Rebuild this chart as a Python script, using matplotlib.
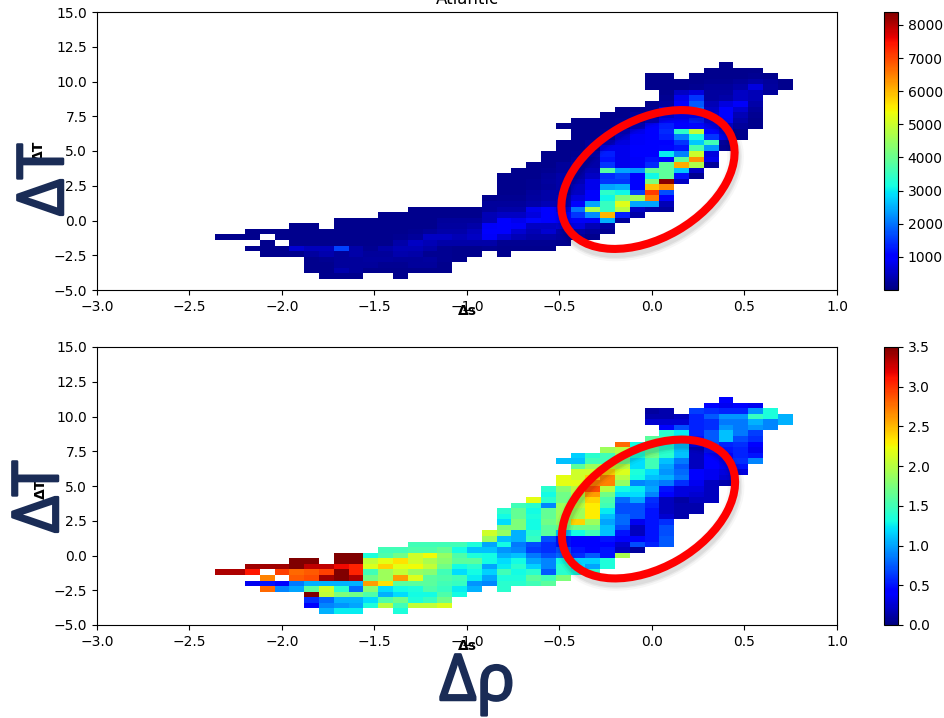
import numpy as np
import matplotlib
matplotlib.use('Agg')
import matplotlib.pyplot as plt
import matplotlib.patheffects as pe
from matplotlib.patches import Ellipse

nan = float('nan')

# histogram grid: 50 x 50 bins over the axis ranges
x_range = (-3.0, 1.0)
y_range = (-5.0, 15.0)
n_bins = 50
first_row = 2

# first occupied column of every row, both panels share the same footprint
first_col = [15, 14, 14, 14, 11, 10, 11, 8, 10, 13, 16, 19, 21, 26, 26, 27, 27, 27, 27,
             28, 29, 30, 30, 31, 31, 32, 32, 31, 32, 34, 35, 37, 38, 38, 37, 37, 37, 41, 42]

# upper panel, counts per bin
count_rows = [
    [100, 100, 100, nan, nan, 100],
    [100, 100, 350, 200, 100, 100, 100, 100, 100, 100],
    [100, 100, 200, 200, 200, 150, 150, 200, 200, 100],
    [100, 150, 200, 200, 250, 250, 200, 200, 250, 150, 100],
    [100, 100, 100, 250, 350, 200, 300, 200, 200, 350, 300, 150, 150, 100, 100, nan, 100],
    [100, 100, 100, 600, 450, 450, 1600, 300, 150, 300, 400, 400, 300, 150, 100, 100, 150, 100, 100, 100, 100],
    [100, nan, 100, 100, 100, 100, 100, 100, 100, 300, 500, 400, 300, 300, 300, 300, 150, 150, 150, 150, 100],
    [100, 100, 100, nan, 100, 100, 100, 100, 100, 100, 100, 120, 150, 200, 500, 500, 400, 500, 900, 600, 400, 300, 300, 250, 200, 100],
    [100, 100, 100, 100, 100, 100, 100, 100, 100, 100, 120, 150, 200, 300, 300, 450, 1000, 1000, 600, 400, 600, 300, 300, 200, 150],
    [100, 100, nan, 100, 100, 100, 100, 100, 100, 120, 250, 250, 300, 900, 1000, 900, 500, 500, 600, 700, 400, 250],
    [100, 100, 100, 100, 100, 100, 120, 200, 200, 200, 400, 1000, 800, 1100, 1000, 900, 900, 900, 2500, 200],
    [100, 100, 100, 100, 100, 100, 100, 400, 500, 500, 700, 1000, 1000, 1500, 2200, 6000, 1300, 300],
    [100, 100, 100, 100, 100, 200, 300, 300, 800, 1000, 700, 2000, 4700, 3500, 4800, 500, 300, 250],
    [200, 200, 200, 300, 400, 400, 1000, 2400, 3500, 5200, 2400, 2400, 400],
    [100, 150, 150, 250, 300, 400, 700, 1000, 3100, 4200, 4600, 6500, 1000],
    [100, 120, 200, 300, 300, 500, 1000, 3400, 3100, 1600, 7100, 1700],
    [100, 100, 150, 200, 300, 500, 800, 2400, 2500, 1000, 5900, 6400],
    [100, 100, 150, 250, 300, 400, 800, 1500, 1500, 1000, 4200, 8300, 500],
    [100, 100, 100, 200, 300, 300, 500, 1400, 1600, 1000, 3100, 3900, 1200, 150],
    [100, 100, 150, 200, 300, 400, 3800, 2400, 2300, 3900, 3900, 2700, 500],
    [100, 100, 200, 300, 300, 1500, 800, 900, 1400, 3900, 6100, 4700, 200],
    [100, 100, 200, 300, 1200, 800, 900, 1200, 1100, 3900, 6300, 800],
    [100, 100, 150, 400, 1300, 800, 1000, 1000, 3000, 2100, 5000, 700],
    [100, 100, 200, 800, 800, 1000, 1000, 1100, 1200, 3700, 2300, 150],
    [100, 100, 200, 500, 700, 900, 1000, 1000, 1500, 2700, 3600, 200],
    [100, 100, 200, 600, 900, 1000, 1300, 2100, 3200, 1500, 800, 100],
    [100, 100, 150, 500, 800, 1000, 1400, 3400, 4900, 1100, 700, 100],
    [100, 100, 100, 100, 150, 500, 1000, 1300, 1000, 1100, 800, 500, 200, 100],
    [100, 100, 100, 150, 300, 500, 1100, 1000, 1300, 700, 900, 300, 100],
    [100, 120, 200, 300, 700, 1000, 1100, 600, 1000, 400, 150],
    [100, 100, 150, 800, 1100, 2000, 500, 1000, 600, 200],
    [100, 200, 1000, 1800, 400, 700, 900, 300],
    [150, 800, 1500, 250, 300, 500, 400],
    [100, 500, 700, 250, 250, 500, 400, 200],
    [100, 100, 100, 150, 200, 200, 300, 700, 250, 100],
    [100, 100, 100, 100, 150, 150, 200, 300, 200, 100],
    [100, 100, nan, 100, 100, 100, 100, 150, 100],
    [100, 100, 100, 100],
    [100],
]

# lower panel, values per bin
ratio_rows = [
    [1.05, 1.25, 1.25, nan, nan, 1.35],
    [0.4, 0.9, 0.95, 1.0, 1.35, 2.0, 1.5, 2.05, 2.05, 2.15],
    [0.6, 0.8, 1.05, 1.05, 1.2, 1.55, 1.7, 1.35, 1.45, 1.7],
    [3.5, 2.05, 1.75, 1.7, 1.55, 1.05, 1.2, 1.3, 1.3, 1.55, 1.3],
    [2.8, 0.9, 1.0, 1.6, 2.1, 1.4, 0.8, 1.8, 1.2, 1.3, 1.35, 1.55, 1.45, 1.25, 1.05, nan, 1.4],
    [0.35, 0.5, 0.4, 0.85, 1.05, 1.05, 1.05, 1.05, 2.6, 2.35, 1.6, 1.6, 1.6, 1.5, 1.45, 0.95, 0.9, 1.4, 1.4, 1.5, 1.6],
    [2.7, nan, 2.85, 2.9, 3.4, 3.5, 3.35, 1.7, 1.9, 2.6, 2.15, 1.6, 1.55, 1.5, 1.25, 1.0, 1.35, 1.35, 1.6, 1.5, 1.75],
    [3.35, 3.35, 3.1, nan, 2.95, 2.8, 2.85, 2.95, 3.5, 3.05, 1.5, 1.9, 2.05, 1.85, 1.8, 1.5, 1.2, 1.3, 1.15, 1.5, 1.3, 1.4, 0.75, 1.4, 1.3, 1.4],
    [3.4, 3.4, 3.4, 3.5, 3.3, 3.3, 3.15, 3.05, 2.15, 2.4, 2.2, 2.25, 2.05, 1.7, 1.3, 1.4, 1.0, 1.25, 1.4, 1.15, 0.9, 1.4, 1.2, 1.0, 1.35],
    [3.5, 3.5, nan, 3.5, 3.5, 2.05, 2.2, 2.35, 2.1, 1.95, 1.8, 1.6, 1.6, 1.3, 1.2, 1.3, 1.0, 0.9, 1.3, 1.15, 1.15, 1.35],
    [3.5, 3.5, 1.35, 1.55, 1.7, 2.1, 2.25, 1.85, 1.55, 1.35, 1.3, 1.05, 1.1, 0.85, 0.7, 0.8, 0.6, 0.75, 0.5, 1.95],
    [1.5, 1.5, 1.55, 1.55, 1.65, 1.3, 1.1, 1.1, 0.95, 0.9, 0.65, 0.6, 0.7, 0.5, 0.45, 0.5, 0.2, 0.1],
    [1.5, 1.5, 1.5, 1.5, 1.35, 1.0, 1.3, 0.85, 0.7, 0.6, 0.5, 0.4, 0.4, 0.45, 0.25, 0.7, 0.55, 0.75],
    [1.9, 1.1, 1.05, 1.45, 0.7, 0.5, 0.4, 0.4, 0.5, 0.4, 0.45, 0.5, 0.75],
    [2.1, 1.85, 1.05, 1.4, 1.6, 1.1, 1.3, 1.5, 1.1, 0.5, 0.2, 0.5, 0.7],
    [1.75, 1.75, 1.3, 1.6, 1.7, 1.7, 1.7, 1.1, 0.7, 0.2, 0.5, 0.7],
    [1.2, 1.75, 1.3, 1.7, 1.85, 2.4, 1.9, 1.0, 0.8, 0.35, 0.5, 0.6],
    [1.3, 1.65, 1.35, 1.65, 1.9, 1.9, 2.3, 1.1, 0.8, 0.7, 0.5, 0.25, 0.15],
    [1.4, 1.65, 1.3, 1.65, 1.9, 1.9, 2.3, 1.25, 0.7, 0.7, 0.5, 0.2, 0.15, 0.15],
    [1.5, 1.4, 0.9, 1.9, 2.0, 2.3, 1.5, 0.7, 0.7, 0.55, 0.2, 0.15, 0.15],
    [2.2, 1.4, 1.7, 1.9, 2.4, 1.55, 0.8, 1.0, 0.6, 0.2, 0.12, 0.2, 0.2],
    [1.3, 1.7, 2.0, 2.6, 1.7, 1.2, 1.2, 0.9, 0.45, 0.3, 0.25, 0.2],
    [1.4, 1.8, 2.0, 2.9, 2.0, 1.3, 1.25, 1.0, 0.5, 0.3, 0.3, 0.2],
    [2.2, 2.2, 2.7, 2.7, 1.85, 0.9, 0.95, 0.85, 0.6, 0.35, 0.2, 0.15],
    [2.2, 2.1, 2.4, 2.7, 2.0, 1.3, 1.1, 1.05, 0.85, 0.4, 0.35, 0.25],
    [2.1, 2.1, 2.4, 2.15, 1.35, 1.2, 0.95, 0.8, 0.4, 0.35, 0.3, 0.3],
    [1.6, 1.9, 2.1, 2.0, 1.2, 1.5, 1.0, 0.75, 0.2, 0.4, 0.35, 0.5],
    [1.1, 1.1, 1.5, 1.5, 1.7, 1.2, 1.5, 1.1, 0.85, 0.2, 0.4, 0.35, 0.6, 0.9],
    [1.15, 1.4, 1.5, 1.9, 1.35, 1.7, 1.4, 1.1, 0.2, 0.4, 0.45, 0.55, 0.5],
    [1.9, 2.0, 1.4, 1.6, 1.4, 1.1, 0.2, 0.5, 0.5, 0.55, 0.35],
    [2.8, 1.3, 1.3, 1.35, 1.1, 0.35, 0.7, 0.55, 0.6, 0.4],
    [1.6, 1.5, 1.2, 0.5, 0.75, 1.1, 0.7, 0.6],
    [1.4, 1.25, 0.55, 0.75, 1.1, 0.85, 0.65],
    [0.45, 0.7, 0.55, 0.6, 0.95, 0.85, 0.95, 0.9],
    [0.25, 0.25, 0.25, 0.55, 0.6, 0.85, 0.85, 1.05, 0.9, 1.05],
    [0.15, 0.15, 0.2, 0.55, 0.75, 0.95, 0.95, 1.45, 1.35, 1.05],
    [0.1, 0.15, nan, 0.65, 0.6, 0.55, 0.55, 0.95, 1.35],
    [0.45, 0.35, 0.4, 0.35],
    [0.4],
]

count_ticks = [1000, 2000, 3000, 4000, 5000, 6000, 7000, 8000]
ratio_ticks = [0.0, 0.5, 1.0, 1.5, 2.0, 2.5, 3.0, 3.5]

W, H = 945, 718
navy = '#1a2c56'


def make_grid(rows):
    grid = np.full((n_bins, n_bins), np.nan)
    for j, (start, vals) in enumerate(zip(first_col, rows)):
        grid[j + first_row, start:start + len(vals)] = vals
    return grid


def panel(top, rows, vmin, vmax, ticks, label_y, label_x_y):
    ax = fig.add_axes([97 / W, 1 - (top + 278) / H, 740 / W, 278 / H])
    xe = np.linspace(x_range[0], x_range[1], n_bins + 1)
    ye = np.linspace(y_range[0], y_range[1], n_bins + 1)
    mesh = ax.pcolormesh(xe, ye, make_grid(rows), cmap='jet', vmin=vmin, vmax=vmax)
    ax.set_xlim(x_range)
    ax.set_ylim(y_range)
    ax.set_yticks(np.arange(-5, 15.1, 2.5))
    ax.set_xticks(np.arange(-3, 1.1, 0.5))
    ax.set_xlabel('Δs', fontweight='bold')
    ax.xaxis.set_label_coords(0.5, label_x_y)
    ax.set_ylabel('ΔT', fontweight='bold')
    ax.yaxis.set_label_coords(label_y[0], label_y[1])
    cax = fig.add_axes([884 / W, 1 - (top + 278) / H, 14 / W, 278 / H])
    fig.colorbar(mesh, cax=cax, ticks=ticks)
    return ax


fig = plt.figure(figsize=(W / 100, H / 100), dpi=100)

ax1 = panel(12, count_rows, 1, 8390, count_ticks, (-0.069, 0.50), -0.052)
ax1.set_title('Atlantic')
ax2 = panel(347, ratio_rows, 0, 3.5, ratio_ticks, (-0.066, 0.49), -0.05)

# hand drawn annotations on top of the figure, in picture pixels
over = fig.add_axes([0, 0, 1, 1], zorder=10)
over.set_xlim(0, W)
over.set_ylim(H, 0)
over.axis('off')
over.patch.set_alpha(0)

for cx, cy in [(648, 179.5), (648.5, 509)]:
    for lw, alpha in [(12, 0.03), (9, 0.05), (7, 0.06)]:
        over.add_patch(Ellipse((cx + 1, cy + 4), 188, 118, angle=-30, fill=False,
                               ec='black', lw=lw, alpha=alpha))
    over.add_patch(Ellipse((cx, cy), 188, 118, angle=-30, fill=False, ec='#ff0000', lw=5.8))

# regular weight thickened with a stroke, closer to the pasted labels than bold
thick = [pe.withStroke(linewidth=1.8, foreground=navy)]
big = dict(color=navy, fontsize=46, family='Open Sans', ha='center', va='center', path_effects=thick)
over.text(477, 683, 'Δρ', **big)
over.text(46, 180, 'ΔT', rotation=90, **big)
over.text(41, 497, 'ΔT', rotation=90, **big)

fig.savefig('out.png', dpi=100)
